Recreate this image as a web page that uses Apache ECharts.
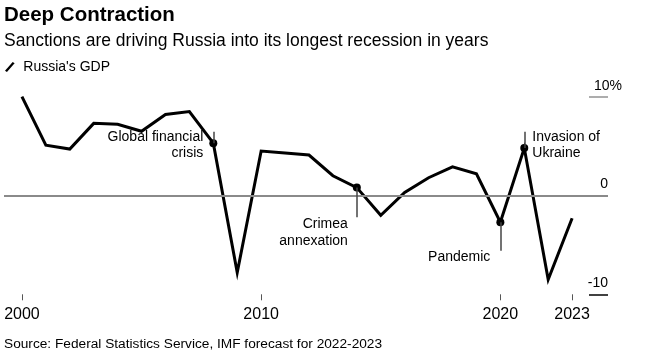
<!DOCTYPE html>
<html>
<head>
<meta charset="utf-8">
<script src="https://cdn.jsdelivr.net/npm/echarts@6/dist/echarts.min.js"></script>
<style>
html,body{margin:0;padding:0;background:#fff;}
#chart{width:668px;height:357px;}
</style>
</head>
<body>
<div id="chart"></div>
<script>
const years = [2000,2001,2002,2003,2004,2005,2006,2007,2008,2009,2010,2011,2012,2013,2014,2015,2016,2017,2018,2019,2020,2021,2022,2023];
const gdp = [10.0,5.1,4.7,7.3,7.2,6.5,8.2,8.5,5.3,-7.8,4.5,4.3,4.1,2.0,0.8,-2.0,0.3,1.8,2.9,2.2,-2.7,4.8,-8.5,-2.3];
const tickYears = [2000,2010,2020,2023];
const yTicks = [-10,0,10];
const eventYears = [2008,2014,2020,2021];
const eventLabels = ['Global financial\ncrisis','Crimea\nannexation','Pandemic','Invasion of\nUkraine'];
const leaderEnds = [6.45,-2.2,-5.6,6.45];

const FONT = '"Liberation Sans", Arial, Helvetica, sans-serif';
const labelStyles = [
  {position:'left', distance:6, offset:[0,2], align:'right', lineHeight:16},
  {position:'left', distance:5, offset:[0,45], align:'right', lineHeight:16.5},
  {position:'left', distance:6, offset:[0,35], align:'right', lineHeight:16},
  {position:'right', distance:4, offset:[0,-3], align:'left', lineHeight:15.5}
];

const eventData = eventYears.map((y,i)=>{
  const v = gdp[years.indexOf(y)];
  return {
    value:[y,v],
    label:Object.assign({show:true, formatter:eventLabels[i], color:'#000', opacity:1, fontSize:14, fontFamily:FONT}, labelStyles[i])
  };
});
const leaderData = eventYears.map((y,i)=>{
  const v = gdp[years.indexOf(y)];
  return [{coord:[y,v]},{coord:[y,leaderEnds[i]]}];
});

const chart = echarts.init(document.getElementById('chart'));
chart.setOption({
  animation:false,
  textStyle:{fontFamily:FONT},
  title:[
    {text:'Deep Contraction', left:4, top:5, padding:0, textStyle:{fontSize:20.5, fontWeight:'bold', color:'#000', fontFamily:FONT}},
    {text:'Sanctions are driving Russia into its longest recession in years', left:4, top:32, padding:0, textStyle:{fontSize:17.5, fontWeight:'normal', color:'#000', fontFamily:FONT}},
    {text:'Source: Federal Statistics Service, IMF forecast for 2022-2023', left:4, top:337, padding:0, textStyle:{fontSize:13.7, fontWeight:'normal', color:'#000', fontFamily:FONT}}
  ],
  legend:{
    left:5, top:60, padding:0, itemWidth:11, itemHeight:10, itemGap:10,
    icon:'path://M0,9 L8,0 L10,1.4 L2,10.4 Z',
    textStyle:{fontSize:14, color:'#000', fontFamily:FONT, padding:[0,0,0,3]},
    data:[{name:"Russia's GDP", itemStyle:{color:'#000'}}]
  },
  grid:[
    {left:4, right:60, top:96.7, bottom:62.7},
    {left:589, right:60, top:96.7, bottom:62.7}
  ],
  xAxis:[
    {type:'value', gridIndex:0, min:1999.25, max:2024.5,
     axisLine:{show:false, onZero:false}, splitLine:{show:false},
     axisTick:{show:true, length:6, customValues:tickYears, lineStyle:{color:'#555', width:1}},
     axisLabel:{show:true, customValues:tickYears, margin:12, fontSize:16, color:'#000', fontFamily:FONT, formatter:v=>String(v)}},
    {type:'value', gridIndex:1, min:0, max:1, show:false}
  ],
  yAxis:[
    {type:'value', gridIndex:0, min:-10, max:10, interval:10, show:false},
    {type:'value', gridIndex:1, min:-10, max:10, interval:10, position:'right',
     axisLine:{show:false}, axisTick:{show:false},
     splitLine:{show:true, lineStyle:{color:['#111','#8a8a8a','#999'], width:1.6}},
     axisLabel:{show:true, inside:true, margin:-14, verticalAlign:'bottom', padding:[0,0,4,0],
       fontSize:14, color:'#000', fontFamily:FONT,
       formatter:v=> v===10 ? '10%' : '{r|' + v + '}',
       rich:{r:{fontSize:14, color:'#000', fontFamily:FONT, padding:[0,14,0,0]}}
     }}
  ],
  series:[
    {type:'line', xAxisIndex:0, yAxisIndex:0, data:[], z:1, silent:true,
     markLine:{silent:true, symbol:['none','none'], label:{show:false},
       lineStyle:{color:'#8a8a8a', width:2, type:'solid'}, data:[{yAxis:0}]}},
    {name:"Russia's GDP", type:'line', xAxisIndex:0, yAxisIndex:0, z:3, clip:false,
     data:years.map((y,i)=>[y,gdp[i]]), showSymbol:false, symbol:'none',
     lineStyle:{color:'#000', width:3, join:'miter'}, itemStyle:{color:'#000'}},
    {type:'scatter', xAxisIndex:0, yAxisIndex:0, z:4, symbolSize:8, itemStyle:{color:'#000', opacity:1},
     data:eventData,
     markLine:{silent:true, symbol:['none','none'], label:{show:false},
       lineStyle:{color:'#444', width:1.5, type:'solid'}, data:leaderData}}
  ]
});
</script>
</body>
</html>
